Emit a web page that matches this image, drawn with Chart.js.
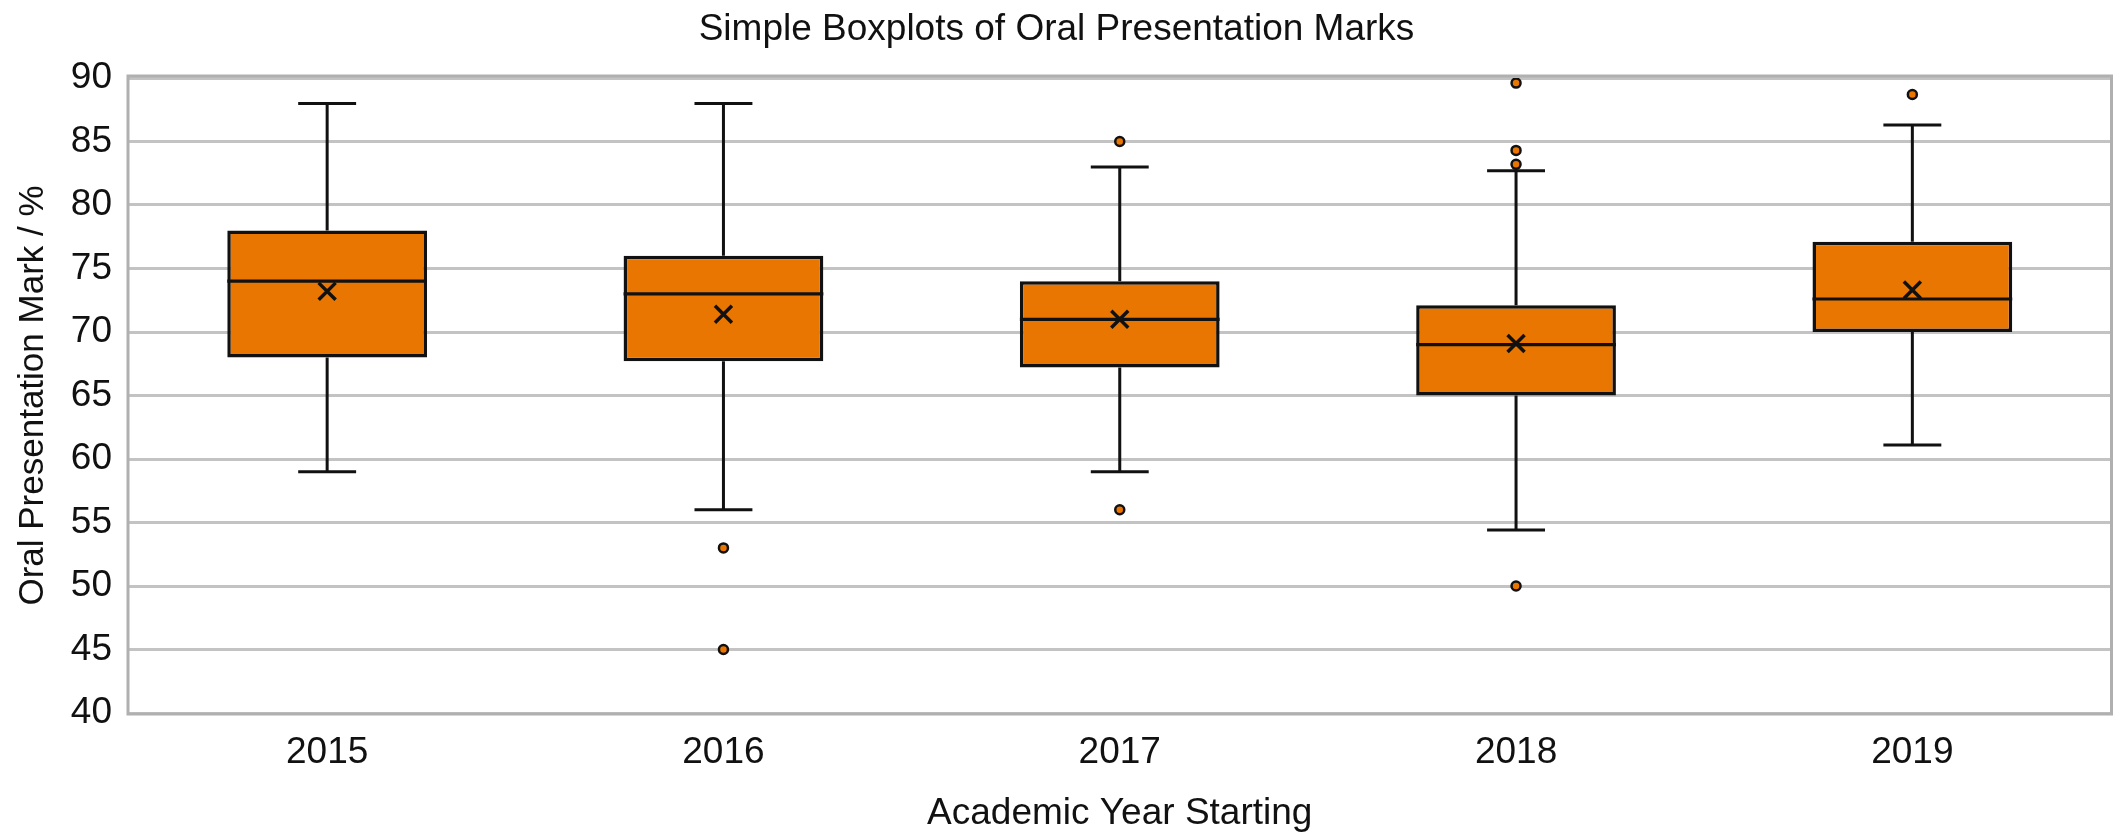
<!DOCTYPE html>
<html>
<head>
<meta charset="utf-8">
<script src="https://cdn.jsdelivr.net/npm/chart.js@4.4.1/dist/chart.umd.min.js"></script>
<style>
  html, body { margin: 0; padding: 0; background: #fff; }
</style>
</head>
<body>
<canvas id="chart" width="2126" height="832"></canvas>
<script>
// values
const years = ["2015", "2016", "2017", "2018", "2019"];
const lowWhisker = [59, 56, 59, 54.4, 61.1];
const q1 = [68, 67.7, 67.2, 65, 70];
const medians = [74, 73, 71, 69, 72.6];
const q3 = [78, 76, 74, 72.1, 77.1];
const highWhisker = [88, 88, 83, 82.7, 86.3];
const means = [73.2, 71.4, 71, 69.1, 73.3];
const outliers = [[], [53, 45], [85, 56], [89.6, 84.3, 83.2, 50], [88.7]];
const yMin = 40, yMax = 90, yStep = 5;

const orange = "#E97600";
const ink = "#111111";
const fontFamily = "'Liberation Sans', Arial, Helvetica, sans-serif";

const BOX_INDEX = 2;

// whiskers, caps, median line and plot frame, all placed through the chart scales
const boxParts = {
	id: "boxParts",
	beforeDatasetsDraw(chart) {
		const { ctx, scales: { x, y } } = chart;
		const bars = chart.getDatasetMeta(BOX_INDEX).data;
		ctx.save();
		ctx.strokeStyle = ink;
		ctx.lineWidth = 3;
		ctx.lineCap = "butt";
		years.forEach((_, i) => {
			const cx = x.getPixelForValue(i);
			const half = bars[i].width * 0.145;
			const yLo = y.getPixelForValue(lowWhisker[i]);
			const yHi = y.getPixelForValue(highWhisker[i]);
			ctx.beginPath();
			ctx.moveTo(cx, yLo);
			ctx.lineTo(cx, y.getPixelForValue(q1[i]));
			ctx.moveTo(cx, y.getPixelForValue(q3[i]));
			ctx.lineTo(cx, yHi);
			ctx.moveTo(cx - half, yLo);
			ctx.lineTo(cx + half, yLo);
			ctx.moveTo(cx - half, yHi);
			ctx.lineTo(cx + half, yHi);
			ctx.stroke();
		});
		ctx.restore();
	},
	afterDatasetDraw(chart, args) {
		if (args.index !== BOX_INDEX) return;
		const { ctx, scales: { x, y } } = chart;
		const bars = chart.getDatasetMeta(BOX_INDEX).data;
		ctx.save();
		ctx.strokeStyle = ink;
		ctx.lineWidth = 3.2;
		years.forEach((_, i) => {
			const cx = x.getPixelForValue(i);
			const half = bars[i].width / 2;
			const ym = y.getPixelForValue(medians[i]);
			ctx.beginPath();
			ctx.moveTo(cx - half, ym);
			ctx.lineTo(cx + half, ym);
			ctx.stroke();
		});
		ctx.restore();
	},
	afterDraw(chart) {
		const { ctx, chartArea: a } = chart;
		ctx.save();
		ctx.strokeStyle = "#b0b0b0";
		ctx.lineWidth = 3;
		ctx.strokeRect(a.left - 1, a.top - 2, a.right - a.left + 2, a.bottom - a.top + 3);
		ctx.restore();
	},
};

const outlierPoints = [];
outliers.forEach((list, i) => list.forEach(v => outlierPoints.push({ x: years[i], y: v })));

const ctx = document.getElementById("chart");
new Chart(ctx, {
	type: "bar",
	data: {
		labels: years,
		datasets: [
			{
				type: "line",
				data: means,
				showLine: false,
				pointStyle: "crossRot",
				pointRadius: 12,
				pointBorderWidth: 3.5,
				pointBorderColor: ink,
				pointBackgroundColor: ink,
			},
			{
				type: "line",
				data: outlierPoints,
				showLine: false,
				pointStyle: "circle",
				pointRadius: 4.5,
				pointBorderWidth: 2.5,
				pointBorderColor: ink,
				pointBackgroundColor: orange,
			},
			{
				type: "bar",
				data: years.map((_, i) => [q1[i], q3[i]]),
				backgroundColor: orange,
				borderColor: ink,
				borderWidth: 3.5,
				borderSkipped: false,
				barPercentage: 0.504,
				categoryPercentage: 1,
			},
		],
	},
	options: {
		responsive: false,
		animation: false,
		devicePixelRatio: 1,
		events: [],
		layout: { padding: { left: 0, right: 13, top: 0, bottom: 0 } },
		scales: {
			x: {
				afterFit(scale) {
					scale.height = 119;
				},
				grid: { display: false, drawTicks: false },
				border: { display: false },
				ticks: {
					color: ink,
					padding: 21,
					font: { family: fontFamily, size: 37, lineHeight: 1 },
				},
				title: {
					display: true,
					text: "Academic Year Starting",
					color: ink,
					padding: { top: 25, bottom: 0 },
					font: { family: fontFamily, size: 37, lineHeight: 1 },
				},
			},
			y: {
				min: yMin,
				max: yMax,
				afterFit(scale) {
					scale.width = 129;
				},
				grid: { color: "#c3c3c3", lineWidth: 3, drawTicks: false },
				border: { display: false },
				ticks: {
					stepSize: yStep,
					color: ink,
					padding: 17,
					font: { family: fontFamily, size: 37, lineHeight: 1 },
				},
				title: {
					display: true,
					text: "Oral Presentation Mark / %",
					color: ink,
					padding: { top: 16, bottom: 0 },
					font: { family: fontFamily, size: 35, lineHeight: 1 },
				},
			},
		},
		plugins: {
			legend: { display: false },
			tooltip: { enabled: false },
			title: {
				display: true,
				text: "Simple Boxplots of Oral Presentation Marks",
				color: ink,
				padding: { top: 11, bottom: 30 },
				font: { family: fontFamily, size: 37, weight: "normal", lineHeight: 1 },
			},
		},
	},
	plugins: [boxParts],
});
</script>
</body>
</html>
